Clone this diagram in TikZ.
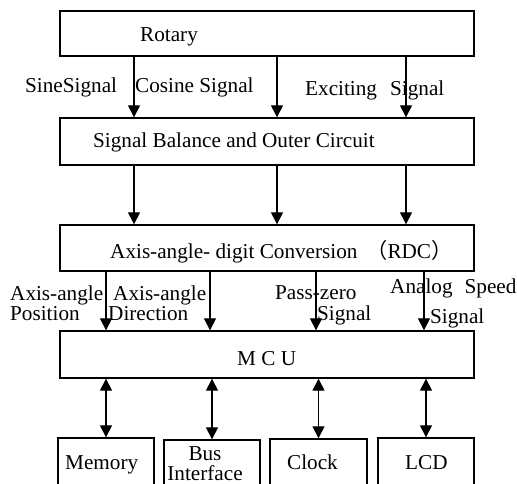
\documentclass[tikz,border=0pt]{standalone}
\usepackage{fontspec}
\setmainfont{Liberation Serif}
\newfontfamily\cjk{Noto Sans CJK SC}
\usetikzlibrary{arrows.meta}
\begin{document}
\begin{tikzpicture}[x=1pt,y=-1pt,
  box/.style={draw,line width=1.3pt,rectangle,inner sep=0pt},
  lbl/.style={anchor=base west,inner sep=0pt,font=\fontsize{21.2}{22}\selectfont},
  arr/.style={line width=1.1pt,-{Triangle[length=12pt,width=12pt]}},
  darr/.style={line width=1.1pt,{Triangle[length=12pt,width=12pt]}-{Triangle[length=12pt,width=12pt]}}]
\clip (0,0) rectangle (517,484);
% main boxes
\node[box,minimum width=414pt,minimum height=45pt] (rot) at (267,33.5) {};
\node[box,minimum width=414pt,minimum height=47pt] (sb) at (267,141.5) {};
\node[box,minimum width=414pt,minimum height=46pt] (rdc) at (267,248) {};
\node[box,minimum width=414pt,minimum height=47pt] (mcu) at (267,354.5) {};
% bottom boxes
\node[box,minimum width=96pt,minimum height=48pt] (mem) at (106,462) {};
\node[box,minimum width=96pt,minimum height=46pt] (bus) at (212,463) {};
\node[box,minimum width=97pt,minimum height=47pt] (clk) at (318.5,462.5) {};
\node[box,minimum width=96pt,minimum height=48pt] (lcd) at (426,462) {};
% box texts
\node[lbl] (trot) at (140,42) {Rotary};
\node[lbl] (tsb) at (93,148) {Signal Balance and Outer Circuit};
\node[lbl] (trdc) at (110,258) {Axis-angle- digit Conversion \,{\cjk （}RDC{\cjk ）}};
\node[lbl] (tmcu) at (237,365) {M C U};
\node[lbl] (tmem) at (65,469) {Memory};
\node[inner sep=0pt,anchor=south,align=center,font=\fontsize{21.2}{19.5}\selectfont] (tbus) at (205,480.5) {Bus\\Interface};
\node[lbl] (tclk) at (287,469) {Clock};
\node[lbl] (tlcd) at (405,469) {LCD};
% arrows rotary -> sb
\draw[arr] (rot.south -| 134,0) -- (sb.north -| 134,0);
\draw[arr] (rot.south -| 277,0) -- (sb.north -| 277,0);
\draw[arr] (rot.south -| 406,0) -- (sb.north -| 406,0);
% arrows sb -> rdc
\draw[arr] (sb.south -| 134,0) -- (rdc.north -| 134,0);
\draw[arr] (sb.south -| 277,0) -- (rdc.north -| 277,0);
\draw[arr] (sb.south -| 406,0) -- (rdc.north -| 406,0);
% arrows rdc -> mcu
\draw[arr] (rdc.south -| 106,0) -- (mcu.north -| 106,0);
\draw[arr] (rdc.south -| 210,0) -- (mcu.north -| 210,0);
\draw[arr] (rdc.south -| 316,0) -- (mcu.north -| 316,0);
\draw[arr] (rdc.south -| 424,0) -- (mcu.north -| 424,0);
% double arrows
\draw[darr] (mcu.south -| mem.north) -- (mem.north);
\draw[darr] (mcu.south -| bus.north) -- (bus.north);
\draw[darr] (mcu.south -| clk.north) -- (clk.north);
\draw[darr] (mcu.south -| lcd.north) -- (lcd.north);
% signal labels
\node[lbl] (l1) at (25,93) {SineSignal};
\node[lbl] (l2) at (135,93) {Cosine Signal};
\node[lbl] (l3) at (305,96) {Exciting};
\node[lbl] (l4) at (390,96) {Signal};
\node[lbl] (l5) at (10,300) {Axis-angle};
\node[lbl] (l6) at (10,320) {Position};
\node[lbl] (l7) at (113,300) {Axis-angle};
\node[lbl] (l8) at (108,320) {Direction};
\node[lbl] (l9) at (275,299) {Pass-zero};
\node[lbl] (l10) at (317,320) {Signal};
\node[lbl] (l11) at (390,293) {Analog\hspace{12pt}Speed};
\node[lbl] (l12) at (430,323) {Signal};
\end{tikzpicture}
\end{document}
